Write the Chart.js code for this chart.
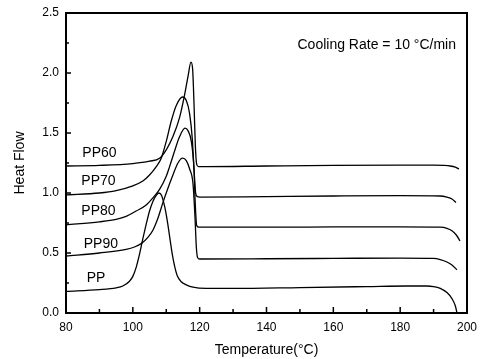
<!DOCTYPE html>
<html>
<head>
<meta charset="utf-8">
<script src="https://cdn.jsdelivr.net/npm/chart.js@4.4.0/dist/chart.umd.min.js"></script>
<style>
  html, body { margin: 0; padding: 0; background: #fff; }
  #graph { width: 483px; height: 359px; }
</style>
</head>
<body>
<div id="graph"></div>
<script>
// Données (température en °C, flux de chaleur)
var pp60Temp = [80, 90, 100, 105, 108, 110, 112, 114, 115.5, 116.5, 117.4, 117.9, 118.3, 118.7, 119.1, 119.6, 122, 140, 160, 180, 190, 193, 195, 196.5, 197.6];
var pp60Flow = [1.225, 1.23, 1.245, 1.265, 1.29, 1.36, 1.47, 1.63, 1.82, 1.97, 2.09, 2.03, 1.75, 1.4, 1.24, 1.22, 1.22, 1.225, 1.23, 1.232, 1.232, 1.23, 1.225, 1.215, 1.2];

var pp70Temp = [80, 90, 95, 100, 103, 105, 107, 108.5, 110, 111.5, 113, 114.9, 116, 117, 117.8, 118.3, 118.8, 119.3, 120, 140, 160, 180, 192, 194, 195.5, 196.7];
var pp70Flow = [0.985, 1.0, 1.02, 1.06, 1.1, 1.15, 1.22, 1.29, 1.43, 1.6, 1.73, 1.8, 1.77, 1.66, 1.45, 1.2, 1.0, 0.97, 0.965, 0.97, 0.975, 0.978, 0.975, 0.965, 0.95, 0.92];

var pp80Temp = [80, 90, 95, 98, 101, 104, 106, 108, 110, 111, 112.5, 114, 115.6, 116.5, 117.5, 118.3, 118.7, 119.1, 119.8, 140, 160, 180, 192, 194, 195.5, 196.8, 197.9];
var pp80Flow = [0.735, 0.76, 0.78, 0.805, 0.85, 0.9, 0.96, 1.03, 1.14, 1.22, 1.35, 1.47, 1.54, 1.52, 1.43, 1.2, 0.9, 0.73, 0.715, 0.715, 0.717, 0.718, 0.715, 0.705, 0.685, 0.65, 0.6];

var pp90Temp = [80, 90, 98, 100.5, 102.6, 104.5, 106, 107.5, 109, 110.5, 112, 113.5, 114.9, 116, 117, 118, 118.6, 119, 119.4, 120, 140, 160, 180, 190, 192, 194, 195.5, 197];
var pp90Flow = [0.475, 0.5, 0.53, 0.55, 0.58, 0.63, 0.69, 0.79, 0.92, 1.04, 1.15, 1.25, 1.29, 1.27, 1.2, 1.08, 0.8, 0.55, 0.46, 0.45, 0.452, 0.455, 0.458, 0.455, 0.445, 0.425, 0.4, 0.36];

var ppTemp = [80, 90, 95, 97, 99, 100, 101, 102, 103, 104, 105, 106, 107, 107.8, 108.6, 109.5, 110.3, 111.1, 111.8, 112.5, 113.3, 114.5, 116, 118, 122, 130, 150, 170, 182, 188, 190, 192, 194, 195.5, 196.5, 197];
var ppFlow = [0.18, 0.195, 0.21, 0.225, 0.265, 0.305, 0.38, 0.49, 0.62, 0.74, 0.85, 0.93, 0.98, 1.0, 0.98, 0.89, 0.77, 0.62, 0.49, 0.39, 0.31, 0.26, 0.235, 0.215, 0.205, 0.205, 0.212, 0.22, 0.225, 0.225, 0.22, 0.205, 0.17, 0.12, 0.06, 0.0];

var seriesNames = ['PP60', 'PP70', 'PP80', 'PP90', 'PP'];
var seriesTemps = [pp60Temp, pp70Temp, pp80Temp, pp90Temp, ppTemp];
var seriesFlows = [pp60Flow, pp70Flow, pp80Flow, pp90Flow, ppFlow];

// Étiquettes des courbes (coordonnées dans les unités du graphique)
var labelTemp = [84.9, 84.6, 84.6, 85.3, 86.2];
var labelFlow = [1.33, 1.10, 0.85, 0.57, 0.29];

var xTicks = [80, 100, 120, 140, 160, 180, 200];
var yTicks = [0.0, 0.5, 1.0, 1.5, 2.0, 2.5];
var noteText = 'Cooling Rate = 10 °C/min';

var graphDiv = document.getElementById('graph');
graphDiv.innerHTML = '';
var canvas = document.createElement('canvas');
canvas.id = 'chartCanvas';
graphDiv.appendChild(canvas);

var police = '"Liberation Sans", Arial, sans-serif';

// Cadre, petits traits vers l'intérieur et textes
var cadreEtTextes = {
    id: 'cadreEtTextes',
    afterDraw: function(chart) {
        var ctx = chart.ctx, a = chart.chartArea;
        var sx = chart.scales.x, sy = chart.scales.y;
        ctx.save();
        ctx.strokeStyle = '#000';
        ctx.lineWidth = 2;
        ctx.strokeRect(a.left, a.top, a.right - a.left, a.bottom - a.top);

        ctx.lineWidth = 1.5;
        ctx.beginPath();
        for (var i = 0; i < xTicks.length; i++) {
            var x = sx.getPixelForValue(xTicks[i]);
            ctx.moveTo(x, a.bottom); ctx.lineTo(x, a.bottom - 6);
            if (i < xTicks.length - 1) {
                var xm = sx.getPixelForValue((xTicks[i] + xTicks[i + 1]) / 2);
                ctx.moveTo(xm, a.bottom); ctx.lineTo(xm, a.bottom - 4);
            }
        }
        for (var j = 0; j < yTicks.length; j++) {
            var y = sy.getPixelForValue(yTicks[j]);
            ctx.moveTo(a.left, y); ctx.lineTo(a.left + 5, y);
            if (j < yTicks.length - 1) {
                var ym = sy.getPixelForValue((yTicks[j] + yTicks[j + 1]) / 2);
                ctx.moveTo(a.left, ym); ctx.lineTo(a.left + 3, ym);
            }
        }
        ctx.stroke();

        ctx.fillStyle = '#000';
        ctx.font = '14px ' + police;
        ctx.textBaseline = 'middle';
        ctx.textAlign = 'left';
        for (var k = 0; k < seriesNames.length; k++) {
            ctx.fillText(seriesNames[k], sx.getPixelForValue(labelTemp[k]), sy.getPixelForValue(labelFlow[k]));
        }

        ctx.font = '14px ' + police;
        ctx.textAlign = 'right';
        ctx.fillText(noteText, a.right - 11, a.top + 32);
        ctx.restore();
    }
};

var datasets = seriesNames.map(function(nom, n) {
    return {
        label: nom,
        data: seriesTemps[n].map(function(t, m) { return { x: t, y: seriesFlows[n][m] }; }),
        borderColor: '#000',
        borderWidth: 1.3,
        pointRadius: 0,
        fill: false,
        cubicInterpolationMode: 'monotone'
    };
});

var chart = new Chart(canvas, {
    type: 'line',
    data: { datasets: datasets },
    plugins: [cadreEtTextes],
    options: {
        responsive: true,
        maintainAspectRatio: false,
        animation: false,
        layout: { padding: { top: 13, right: 16, left: 0, bottom: 0 } },
        plugins: {
            legend: { display: false },
            tooltip: { enabled: false }
        },
        scales: {
            x: {
                type: 'linear',
                min: 80,
                max: 200,
                grid: { display: false, drawTicks: false },
                border: { display: false },
                ticks: {
                    stepSize: 20,
                    padding: 7,
                    color: '#000',
                    font: { family: police, size: 12 }
                },
                title: {
                    display: true,
                    text: 'Temperature(°C)',
                    color: '#000',
                    font: { family: police, size: 14 },
                    padding: { top: 4, bottom: 0 }
                },
                afterFit: function(scale) {
                    scale.height = 46;
                    scale.paddingLeft = 0; scale.paddingRight = 0;
                }
            },
            y: {
                type: 'linear',
                min: 0,
                max: 2.5,
                grid: { display: false, drawTicks: false },
                border: { display: false },
                ticks: {
                    stepSize: 0.5,
                    padding: 7,
                    color: '#000',
                    font: { family: police, size: 12 },
                    callback: function(v) { return v.toFixed(1); }
                },
                title: {
                    display: true,
                    text: 'Heat Flow',
                    color: '#000',
                    font: { family: police, size: 14 },
                    padding: { top: 12, bottom: 0 }
                },
                afterFit: function(scale) {
                    scale.width = 66;
                    scale.paddingTop = 0; scale.paddingBottom = 0;
                }
            }
        }
    }
});
</script>
</body>
</html>
